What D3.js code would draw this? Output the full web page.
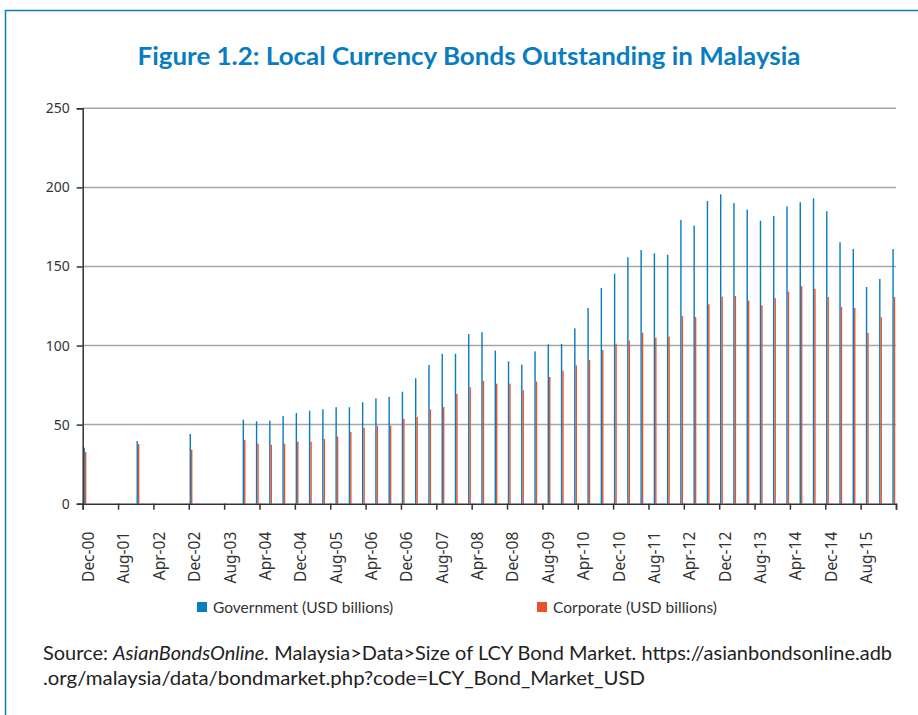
<!DOCTYPE html>
<html>
<head>
<meta charset="utf-8">
<script src="https://cdn.jsdelivr.net/npm/d3@7"></script>
<style>
  body { margin: 0; background: #fff; }
  svg { display: block; }
</style>
</head>
<body>
<svg id="chart"></svg>
<script>
var W = 918, H = 715;

// data: end-of-period values, USD billions
var periods = ["Dec-00","Dec-01","Dec-02","Dec-03",
  "Mar-04","Jun-04","Sep-04","Dec-04","Mar-05","Jun-05","Sep-05","Dec-05",
  "Mar-06","Jun-06","Sep-06","Dec-06","Mar-07","Jun-07","Sep-07","Dec-07",
  "Mar-08","Jun-08","Sep-08","Dec-08","Mar-09","Jun-09","Sep-09","Dec-09",
  "Mar-10","Jun-10","Sep-10","Dec-10","Mar-11","Jun-11","Sep-11","Dec-11",
  "Mar-12","Jun-12","Sep-12","Dec-12","Mar-13","Jun-13","Sep-13","Dec-13",
  "Mar-14","Jun-14","Sep-14","Dec-14","Mar-15","Jun-15","Sep-15","Dec-15","Mar-16"];
var government = [35.4,39.6,44.1,53.1,
  52.1,52.5,55.5,57.3,58.8,59.7,61.0,61.0,
  64.1,66.6,67.5,70.8,79.3,87.7,94.7,94.8,
  107.3,108.4,96.8,90.0,87.9,96.3,100.8,101.0,
  110.9,123.7,136.4,145.4,155.8,160.4,158.3,157.4,
  179.4,175.8,191.4,195.6,190.1,185.9,178.9,181.9,
  188.0,190.6,193.1,184.9,165.3,161.0,137.0,142.1,161.0];
var corporate = [32.7,37.7,34.2,40.3,
  37.9,37.3,37.9,39.2,39.2,40.9,42.5,45.3,
  47.9,49.1,49.3,53.6,54.8,59.5,61.1,69.4,
  73.6,77.6,75.9,75.9,71.7,77.2,80.1,84.1,
  87.5,90.9,97.2,101.2,103.1,108.1,105.0,105.6,
  118.7,118.0,126.1,130.9,131.3,128.4,125.4,129.9,
  134.0,137.5,135.9,130.7,124.4,123.7,108.1,117.9,130.7];
var seriesNames = ["Government (USD billions)", "Corporate (USD billions)"];
var yTicks = [0, 50, 100, 150, 200, 250];

var colors = ["#0a7dc1", "#e8532c"];
var parseP = d3.timeParse("%b-%y");
var fmtP = d3.timeFormat("%b-%y");
var start = parseP(periods[0]);
var totalMonths = 184;

var svg = d3.select("#chart").attr("width", W).attr("height", H);

// frame
svg.append("path")
   .attr("d", "M5.5," + H + "V10.5H" + W)
   .attr("fill", "none")
   .attr("stroke", "#0a7dc1")
   .attr("stroke-width", 1.5);

svg.append("text")
   .attr("x", 469).attr("y", 65)
   .attr("text-anchor", "middle")
   .attr("font-family", "Lato")
   .attr("font-weight", "bold")
   .attr("font-size", 24)
   .attr("fill", "#0a7dc1")
   .attr("textLength", 663)
   .attr("lengthAdjust", "spacingAndGlyphs")
   .text("Figure 1.2: Local Currency Bonds Outstanding in Malaysia");

var x = d3.scaleLinear().domain([0, totalMonths]).range([82.7, 896]);
var y = d3.scaleLinear().domain([0, 250]).range([503.7, 108.3]);
var sub = d3.scaleBand().domain([0, 1]).range([0, x(1) - x(0)]).paddingOuter(0.55);

// gridlines
svg.append("g").selectAll("line")
   .data(yTicks.filter(d => d > 0))
   .join("line")
   .attr("x1", x(0)).attr("x2", x(totalMonths))
   .attr("y1", d => y(d)).attr("y2", d => y(d))
   .attr("stroke", "#a6a6a6")
   .attr("stroke-width", 1.5);

// bars
var data = periods.map(function(p, i){
    return { m: d3.timeMonth.count(start, parseP(p)), v: [government[i], corporate[i]] };
});
var gBars = svg.append("g");
[0, 1].forEach(function(s){
    gBars.selectAll(".b" + s)
       .data(data)
       .join("rect")
       .attr("class", "b" + s)
       .attr("x", d => x(d.m) + sub(s))
       .attr("width", sub.bandwidth())
       .attr("y", d => y(d.v[s]))
       .attr("height", d => y(0) - y(d.v[s]))
       .attr("fill", colors[s]);
});

// y axis
var yAxis = svg.append("g")
   .attr("transform", "translate(" + x(0) + ",0)")
   .call(d3.axisLeft(y).tickValues(yTicks).tickSize(6).tickPadding(7));
yAxis.select(".domain").attr("stroke", "#333").attr("stroke-width", 1.5);
yAxis.selectAll(".tick line").attr("stroke", "#333").attr("stroke-width", 1.5);
yAxis.selectAll("text")
   .attr("font-family", "Noto Sans")
   .attr("font-size", 14)
   .attr("fill", "#333");

// x axis
var xAxis = svg.append("g")
   .attr("transform", "translate(0," + y(0) + ")")
   .call(d3.axisBottom(x)
      .tickValues(d3.range(0, totalMonths + 1, 8))
      .tickSize(6)
      .tickFormat(d => d < totalMonths ? fmtP(d3.timeMonth.offset(start, d)) : ""));
xAxis.select(".domain").attr("stroke", "#333").attr("stroke-width", 1.5);
xAxis.selectAll(".tick line").attr("stroke", "#333").attr("stroke-width", 1.5);
xAxis.selectAll("text")
   .attr("font-family", "Noto Sans")
   .attr("font-size", 15.5)
   .attr("fill", "#333")
   .attr("text-anchor", "end")
   .attr("transform", "translate(5.5,28) rotate(-90)")
   .attr("x", 0).attr("y", 0).attr("dy", "0.35em");

// legend
var legX = [197, 537];
var leg = svg.append("g").selectAll("g")
   .data(seriesNames)
   .join("g")
   .attr("transform", (d, i) => "translate(" + legX[i] + ",602)");
leg.append("rect").attr("width", 10).attr("height", 10).attr("fill", (d, i) => colors[i]);
leg.append("text")
   .attr("x", 16).attr("y", 10.5)
   .attr("font-family", "Lato")
   .attr("font-size", 15.5)
   .attr("fill", "#333")
   .text(d => d);

// source
var src = svg.append("g")
   .attr("font-family", "Lato")
   .attr("font-size", 19)
   .attr("fill", "#222");
var l1 = src.append("text").attr("x", 43).attr("y", 660).attr("textLength", 849).attr("lengthAdjust", "spacingAndGlyphs");
l1.append("tspan").text("Source: ");
l1.append("tspan").attr("font-style", "italic").text("AsianBondsOnline.");
l1.append("tspan").text(" Malaysia>Data>Size of LCY Bond Market. https://asianbondsonline.adb");
src.append("text").attr("x", 43).attr("y", 685)
   .attr("textLength", 602).attr("lengthAdjust", "spacingAndGlyphs")
   .text(".org/malaysia/data/bondmarket.php?code=LCY_Bond_Market_USD");
</script>
</body>
</html>
